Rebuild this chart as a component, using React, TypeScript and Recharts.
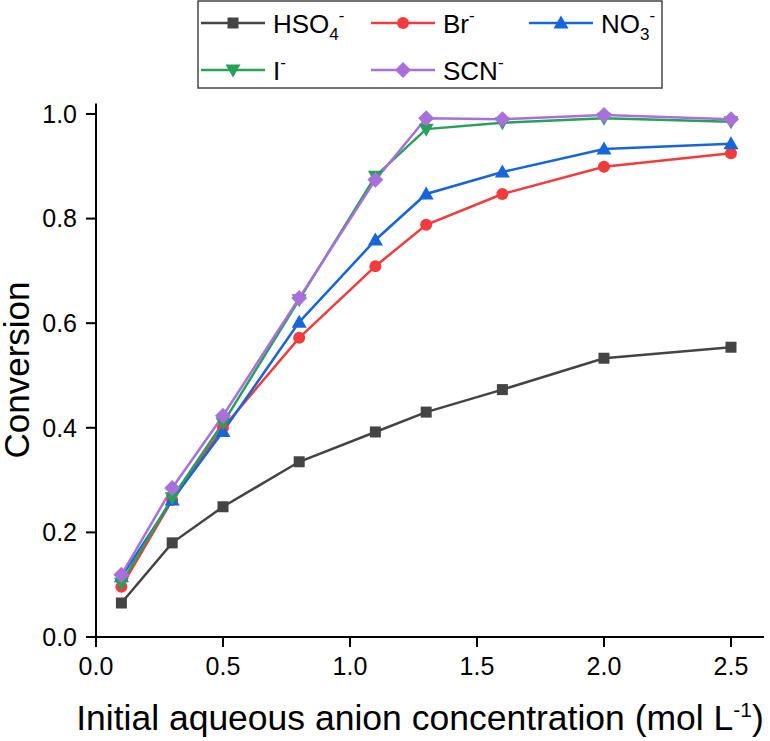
import React from 'react';
import { LineChart, Line, XAxis, YAxis, Label } from 'recharts';

const concentrations = [0.1, 0.3, 0.5, 0.8, 1.1, 1.3, 1.6, 2.0, 2.5];
const hso4Values = [0.065, 0.180, 0.249, 0.335, 0.392, 0.430, 0.473, 0.533, 0.554];
const brValues = [0.096, 0.262, 0.400, 0.572, 0.709, 0.788, 0.847, 0.899, 0.925];
const no3Values = [0.115, 0.262, 0.393, 0.602, 0.759, 0.847, 0.889, 0.933, 0.943];
const iValues = [0.103, 0.266, 0.409, 0.645, 0.881, 0.971, 0.983, 0.992, 0.985];
const scnValues = [0.119, 0.285, 0.423, 0.648, 0.874, 0.992, 0.990, 0.998, 0.990];

const xTicks = [0, 0.5, 1.0, 1.5, 2.0, 2.5];
const yTicks = [0, 0.2, 0.4, 0.6, 0.8, 1.0];

const FONT = '"Liberation Sans", Arial, sans-serif';

type Shape = 'square' | 'circle' | 'triangle' | 'down' | 'diamond';

interface Series {
  key: string;
  base: string;
  sub?: string;
  sup: string;
  color: string;
  shape: Shape;
  values: number[];
}

const series: Series[] = [
  { key: 'hso4', base: 'HSO', sub: '4', sup: '-', color: '#444444', shape: 'square', values: hso4Values },
  { key: 'br', base: 'Br', sup: '-', color: '#F23B3D', shape: 'circle', values: brValues },
  { key: 'no3', base: 'NO', sub: '3', sup: '-', color: '#1765D9', shape: 'triangle', values: no3Values },
  { key: 'iod', base: 'I', sup: '-', color: '#27A05A', shape: 'down', values: iValues },
  { key: 'scn', base: 'SCN', sup: '-', color: '#A96FDA', shape: 'diamond', values: scnValues },
];

const chartData = concentrations.map((x, i) => {
  const row: Record<string, number> = { x };
  series.forEach((s) => {
    row[s.key] = s.values[i];
  });
  return row;
});

function Marker({ cx, cy, shape, color }: { cx: number; cy: number; shape: Shape; color: string }) {
  switch (shape) {
    case 'square':
      return <rect x={cx - 5.5} y={cy - 5.5} width={11} height={11} fill={color} />;
    case 'circle':
      return <circle cx={cx} cy={cy} r={6} fill={color} />;
    case 'triangle':
      return <polygon points={`${cx},${cy - 7.5} ${cx + 7.5},${cy + 5.5} ${cx - 7.5},${cy + 5.5}`} fill={color} />;
    case 'down':
      return <polygon points={`${cx},${cy + 7.5} ${cx + 7.5},${cy - 5.5} ${cx - 7.5},${cy - 5.5}`} fill={color} />;
    default:
      return <polygon points={`${cx},${cy - 8} ${cx + 8},${cy} ${cx},${cy + 8} ${cx - 8},${cy}`} fill={color} />;
  }
}

function IonText({ s, x, y }: { s: Series; x: number; y: number }) {
  return (
    <text x={x} y={y} fontSize={26} fontFamily={FONT} fill="#000">
      <tspan>{s.base}</tspan>
      {s.sub && (
        <tspan dy={7} fontSize={17}>
          {s.sub}
        </tspan>
      )}
      <tspan dy={s.sub ? -19 : -12} fontSize={17}>
        {s.sup}
      </tspan>
    </text>
  );
}

// legend grid: 3 columns, 2 rows
const legendCols = [201, 371, 529];
const legendRows = [23, 70];

function LegendBox() {
  return (
    <svg width={770} height={100} style={{ position: 'absolute', left: 0, top: 0 }}>
      <rect x={198} y={1} width={464} height={87} fill="#fff" stroke="#444" strokeWidth={1.5} />
      {series.map((s, i) => {
        const lx = legendCols[i % 3];
        const ly = legendRows[Math.floor(i / 3)];
        return (
          <g key={s.key}>
            <line x1={lx} x2={lx + 64} y1={ly} y2={ly} stroke={s.color} strokeWidth={2.5} />
            <Marker cx={lx + 32} cy={ly} shape={s.shape} color={s.color} />
            <IonText s={s} x={lx + 72} y={ly + 10} />
          </g>
        );
      })}
    </svg>
  );
}

const axisStyle = { stroke: '#000', strokeWidth: 2 };

export default function App() {
  return (
    <div style={{ position: 'absolute', left: 0, top: 0, width: 770, height: 741, background: '#fff' }}>
      <LineChart
        width={770}
        height={741}
        data={chartData}
        margin={{ top: 103.5, right: 6, left: 0, bottom: 0 }}
      >
        <XAxis
          type="number"
          dataKey="x"
          domain={[0, 2.63]}
          ticks={xTicks}
          tickFormatter={(v) => v.toFixed(1)}
          height={104}
          tickSize={10}
          tickMargin={10}
          axisLine={axisStyle}
          tickLine={axisStyle}
          tick={{ fill: '#000', fontSize: 25, fontFamily: FONT }}
        >
          <Label
            content={() => (
              <text x={420} y={730} textAnchor="middle" fontSize={35.5} fontFamily={FONT} fill="#000">
                <tspan>Initial aqueous anion concentration (mol L</tspan>
                <tspan dy={-13} fontSize={21}>-1</tspan>
                <tspan dy={13}>)</tspan>
              </text>
            )}
          />
        </XAxis>
        <YAxis
          type="number"
          domain={[0, 1.02]}
          ticks={yTicks}
          tickFormatter={(v) => v.toFixed(1)}
          width={96}
          tickSize={10}
          tickMargin={9}
          axisLine={axisStyle}
          tickLine={axisStyle}
          tick={{ fill: '#000', fontSize: 25, fontFamily: FONT }}
        >
          <Label
            content={() => (
              <text
                x={29}
                y={370}
                transform="rotate(-90, 29, 370)"
                textAnchor="middle"
                fontSize={35}
                fontFamily={FONT}
                fill="#000"
              >
                Conversion
              </text>
            )}
          />
        </YAxis>
        {series.map((s) => (
          <Line
            key={s.key}
            type="linear"
            dataKey={s.key}
            stroke={s.color}
            strokeWidth={2.5}
            isAnimationActive={false}
            dot={(p: any) => (
              <Marker key={`${s.key}-${p.index}`} cx={p.cx} cy={p.cy} shape={s.shape} color={s.color} />
            )}
            activeDot={false}
          />
        ))}
      </LineChart>
      <LegendBox />
    </div>
  );
}
